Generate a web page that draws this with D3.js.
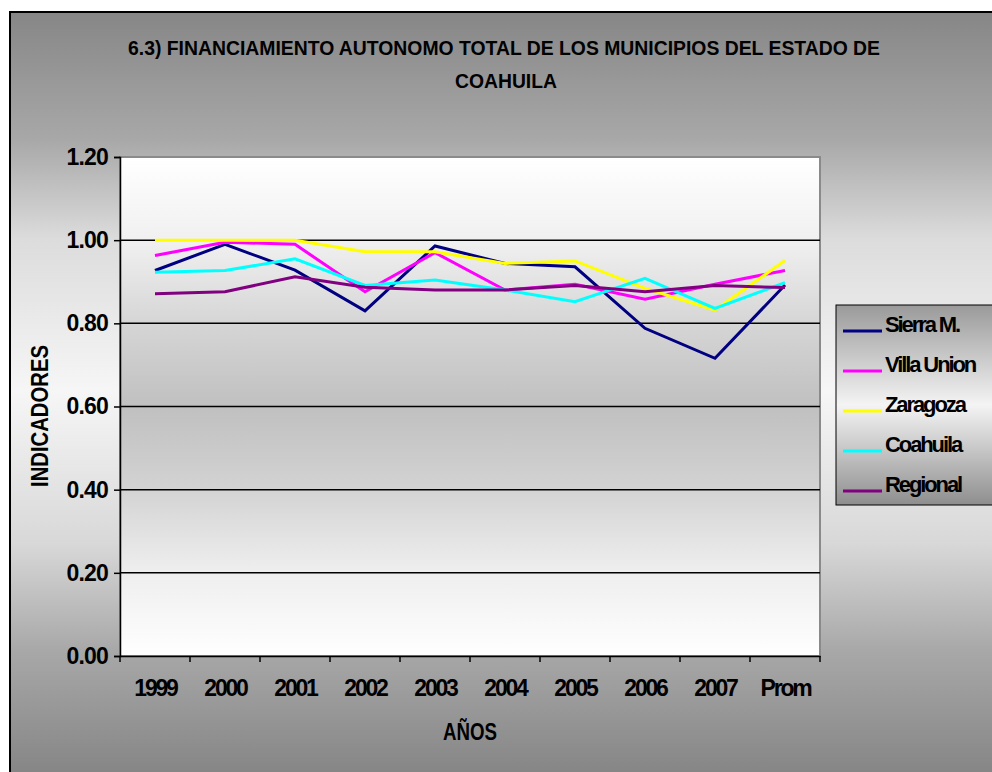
<!DOCTYPE html>
<html>
<head>
<meta charset="utf-8">
<script src="https://cdn.jsdelivr.net/npm/d3@7"></script>
<style>
  html, body { margin: 0; padding: 0; background: #ffffff; }
  svg { display: block; }
  text { font-family: "Liberation Sans", Arial, sans-serif; font-weight: bold; fill: #000; }
</style>
</head>
<body>
<svg id="chart" width="992" height="772"></svg>
<script>
// ---- data ----
const categories = ["1999", "2000", "2001", "2002", "2003", "2004", "2005", "2006", "2007", "Prom"];
const seriesNames = ["Sierra M.", "Villa Union", "Zaragoza", "Coahuila", "Regional"];
const seriesColors = ["#000080", "#FF00FF", "#FFFF00", "#00FFFF", "#800080"];
const sierraM    = [0.927, 0.990, 0.928, 0.830, 0.986, 0.944, 0.936, 0.788, 0.716, 0.892];
const villaUnion = [0.963, 0.995, 0.990, 0.876, 0.970, 0.880, 0.894, 0.858, 0.894, 0.927];
const zaragoza   = [1.000, 1.000, 1.000, 0.972, 0.972, 0.944, 0.950, 0.884, 0.832, 0.951];
const coahuila   = [0.923, 0.927, 0.955, 0.891, 0.904, 0.880, 0.852, 0.908, 0.836, 0.898];
const regional   = [0.871, 0.876, 0.912, 0.887, 0.880, 0.880, 0.891, 0.876, 0.891, 0.886];
const yTicks = [0, 0.2, 0.4, 0.6, 0.8, 1.0, 1.2];
const titleLines = ["6.3) FINANCIAMIENTO AUTONOMO TOTAL DE LOS MUNICIPIOS DEL ESTADO DE", "COAHUILA"];
const xTitle = "AÑOS";
const yTitle = "INDICADORES";

const seriesValues = [sierraM, villaUnion, zaragoza, coahuila, regional];

// ---- layout ----
const svg = d3.select("#chart");
const plot = { left: 120, top: 157, right: 820, bottom: 656 };

const defs = svg.append("defs");
const bgGrad = defs.append("linearGradient").attr("id", "bgGrad")
  .attr("gradientUnits", "userSpaceOnUse").attr("x1", 0).attr("y1", 11).attr("x2", 0).attr("y2", 772);
[[0, "#868686"], [0.17, "#a8a8a8"], [0.30, "#dcdcdc"], [0.50, "#f6f6f6"], [0.70, "#d8d8d8"], [0.84, "#a8a8a8"], [1, "#868686"]]
  .forEach(([o, c]) => bgGrad.append("stop").attr("offset", o).attr("stop-color", c));

const plotGrad = defs.append("linearGradient").attr("id", "plotGrad")
  .attr("gradientUnits", "userSpaceOnUse").attr("x1", 0).attr("y1", plot.top).attr("x2", 0).attr("y2", plot.bottom);
[[0, "#ffffff"], [0.17, "#f0f0f0"], [0.33, "#d6d6d6"], [0.50, "#c0c0c0"], [0.66, "#d2d2d2"], [0.83, "#eeeeee"], [1, "#ffffff"]]
  .forEach(([o, c]) => plotGrad.append("stop").attr("offset", o).attr("stop-color", c));

const legGrad = defs.append("linearGradient").attr("id", "legGrad")
  .attr("x1", 0).attr("y1", 0).attr("x2", 0).attr("y2", 1);
[[0, "#9a9a9a"], [0.5, "#f4f4f4"], [1, "#8e8e8e"]]
  .forEach(([o, c]) => legGrad.append("stop").attr("offset", o).attr("stop-color", c));

// outer chart area
svg.append("rect").attr("x", 10).attr("y", 12).attr("width", 1000).attr("height", 800)
  .attr("fill", "url(#bgGrad)").attr("stroke", "#000").attr("stroke-width", 2);

// plot area
svg.append("rect").attr("x", plot.left).attr("y", plot.top)
  .attr("width", plot.right - plot.left).attr("height", plot.bottom - plot.top)
  .attr("fill", "url(#plotGrad)").attr("stroke", "#8a8a8a").attr("stroke-width", 2);

// scales
const x = d3.scalePoint().domain(categories).range([plot.left, plot.right]).padding(0.5);
const xBand = d3.scaleBand().domain(categories).range([plot.left, plot.right]);
const y = d3.scaleLinear().domain([0, 1.2]).range([plot.bottom, plot.top]);

// gridlines
svg.append("g").selectAll("line").data(yTicks.filter(d => d > 0 && d < 1.2)).join("line")
  .attr("x1", plot.left).attr("x2", plot.right)
  .attr("y1", d => y(d)).attr("y2", d => y(d))
  .attr("stroke", "#000").attr("stroke-width", 1.5);

const FONT = "Liberation Sans, Arial, sans-serif";

// y axis
const yAxis = svg.append("g").attr("transform", `translate(${plot.left},0)`)
  .call(d3.axisLeft(y).tickValues(yTicks).tickFormat(d3.format(".2f")).tickSize(6).tickPadding(6));
yAxis.select(".domain").attr("stroke", "#000").attr("stroke-width", 1.5);
yAxis.selectAll(".tick line").attr("stroke", "#000").attr("stroke-width", 1.5);
yAxis.selectAll(".tick text").attr("font-size", 23).attr("letter-spacing", -0.8)
  .attr("font-family", FONT).attr("font-weight", "bold").attr("fill", "#000");

// x axis
const xAxis = svg.append("g").attr("transform", `translate(0,${plot.bottom})`)
  .call(d3.axisBottom(x).tickSize(0).tickPadding(24));
xAxis.select(".domain").attr("stroke", "#000").attr("stroke-width", 1.5);
xAxis.selectAll(".tick text").attr("font-size", 23).attr("letter-spacing", -2.2)
  .attr("font-family", FONT).attr("font-weight", "bold").attr("fill", "#000");
const boundaries = categories.map(c => xBand(c)).concat([xBand(categories[categories.length - 1]) + xBand.bandwidth()]);
xAxis.selectAll(".bound").data(boundaries).join("line").attr("class", "bound")
  .attr("x1", d => d).attr("x2", d => d).attr("y1", 0).attr("y2", 6)
  .attr("stroke", "#000").attr("stroke-width", 1.5);

// lines
const line = d3.line().x((d, i) => x(categories[i])).y(d => y(d));
svg.append("g").selectAll("path").data(seriesValues).join("path")
  .attr("d", d => line(d)).attr("fill", "none")
  .attr("stroke", (d, i) => seriesColors[i]).attr("stroke-width", 3)
  .attr("stroke-linejoin", "miter");

// titles
svg.append("text").attr("x", 504).attr("y", 55).attr("text-anchor", "middle")
  .attr("font-size", 21).attr("textLength", 752).attr("lengthAdjust", "spacingAndGlyphs")
  .text(titleLines[0]);
svg.append("text").attr("x", 506).attr("y", 88).attr("text-anchor", "middle")
  .attr("font-size", 21).attr("textLength", 102).attr("lengthAdjust", "spacingAndGlyphs")
  .text(titleLines[1]);
svg.append("text").attr("x", 470).attr("y", 740).attr("text-anchor", "middle")
  .attr("font-size", 23).attr("textLength", 54).attr("lengthAdjust", "spacingAndGlyphs")
  .text(xTitle);
svg.append("text").attr("transform", "translate(48,416) rotate(-90)").attr("text-anchor", "middle")
  .attr("font-size", 23).attr("textLength", 142).attr("lengthAdjust", "spacingAndGlyphs")
  .text(yTitle);

// legend
const leg = svg.append("g");
leg.append("rect").attr("x", 836).attr("y", 305).attr("width", 170).attr("height", 200)
  .attr("fill", "url(#legGrad)").attr("stroke", "#000").attr("stroke-width", 1);
const items = leg.selectAll("g.item").data(seriesNames).join("g").attr("class", "item")
  .attr("transform", (d, i) => `translate(0,${324 + i * 40})`);
items.append("line").attr("x1", 843).attr("x2", 882).attr("y1", 7).attr("y2", 7)
  .attr("stroke", (d, i) => seriesColors[i]).attr("stroke-width", 3);
items.append("text").attr("x", 885).attr("y", 8).attr("font-size", 22)
  .attr("letter-spacing", -2.1).text(d => d);
</script>
</body>
</html>
